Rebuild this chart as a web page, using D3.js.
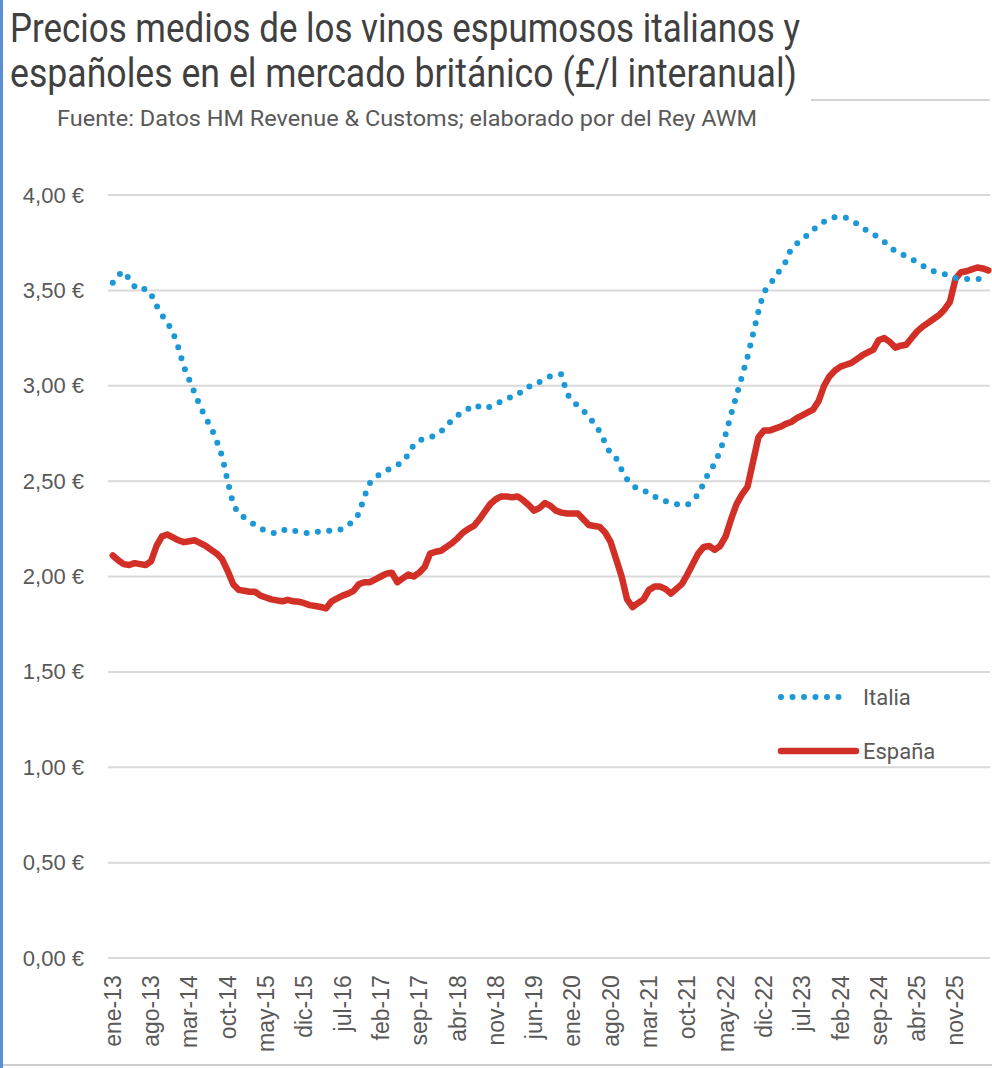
<!DOCTYPE html>
<html>
<head>
<meta charset="utf-8">
<title>Precios medios vinos espumosos</title>
<script src="https://cdn.jsdelivr.net/npm/d3@7"></script>
<style>
  body { margin: 0; background: #fff; }
  svg { display: block; }
</style>
</head>
<body>
<script>
// meses en español y años del eje
var meses = ["ene","feb","mar","abr","may","jun","jul","ago","sep","oct","nov","dic"];
var anios = [13,14,15,16,17,18,19,20,21,22,23,24,25,26];
var nMeses = 161; // ene-13 .. may-26

var categorias = [];
anios.forEach(function(a) {
  meses.forEach(function(m) { categorias.push(m + "-" + a); });
});
categorias = categorias.slice(0, nMeses);

var yTicks = [0, 0.5, 1, 1.5, 2, 2.5, 3, 3.5, 4];

// £/l interanual, Italia
var italia = [
  3.54,3.58,3.60,3.56,3.52,3.50,3.51,3.48,3.42,3.37,3.33,3.28,
  3.20,3.10,3.03,2.96,2.89,2.83,2.78,2.71,2.63,2.50,2.38,2.33,
  2.31,2.29,2.27,2.25,2.24,2.23,2.225,2.24,2.25,2.24,2.235,2.23,
  2.225,2.23,2.24,2.24,2.24,2.24,2.25,2.27,2.29,2.33,2.42,2.49,
  2.52,2.54,2.555,2.57,2.585,2.60,2.64,2.69,2.715,2.72,2.73,2.74,
  2.76,2.79,2.82,2.845,2.86,2.88,2.90,2.89,2.88,2.89,2.90,2.92,
  2.935,2.94,2.95,2.98,2.995,3.00,3.02,3.035,3.05,3.055,3.06,2.96,
  2.92,2.895,2.87,2.84,2.80,2.76,2.70,2.64,2.62,2.56,2.51,2.48,
  2.455,2.45,2.44,2.42,2.40,2.395,2.39,2.38,2.375,2.375,2.40,2.43,
  2.49,2.55,2.59,2.66,2.745,2.85,2.95,3.05,3.15,3.27,3.39,3.49,
  3.53,3.565,3.61,3.65,3.72,3.745,3.77,3.79,3.82,3.835,3.86,3.875,
  3.885,3.885,3.88,3.865,3.85,3.83,3.81,3.795,3.775,3.755,3.73,3.705,
  3.69,3.68,3.665,3.645,3.63,3.61,3.60,3.59,3.585,3.575,3.565,3.56,
  3.56,3.56,3.56,3.56,3.56
];

// £/l interanual, España
var espana = [
  2.11,2.085,2.065,2.06,2.07,2.065,2.06,2.08,2.16,2.21,2.22,2.205,
  2.19,2.18,2.185,2.19,2.175,2.16,2.14,2.12,2.09,2.03,1.96,1.93,
  1.925,1.92,1.92,1.90,1.89,1.88,1.875,1.87,1.878,1.87,1.868,1.86,
  1.85,1.845,1.84,1.833,1.87,1.885,1.90,1.91,1.925,1.96,1.97,1.97,
  1.985,2.00,2.015,2.02,1.97,1.99,2.01,2.00,2.02,2.05,2.12,2.13,
  2.135,2.155,2.175,2.20,2.23,2.25,2.265,2.30,2.34,2.38,2.405,2.42,
  2.42,2.415,2.42,2.40,2.375,2.345,2.36,2.385,2.37,2.345,2.335,2.33,
  2.33,2.33,2.30,2.27,2.265,2.26,2.23,2.18,2.09,2.00,1.88,1.84,
  1.86,1.88,1.93,1.947,1.947,1.935,1.91,1.935,1.96,2.01,2.065,2.12,
  2.155,2.16,2.14,2.16,2.21,2.30,2.38,2.43,2.47,2.60,2.73,2.765,
  2.765,2.775,2.785,2.80,2.81,2.83,2.845,2.86,2.875,2.92,3.00,3.05,
  3.08,3.10,3.11,3.12,3.14,3.16,3.175,3.19,3.24,3.25,3.23,3.20,
  3.21,3.215,3.25,3.285,3.31,3.33,3.35,3.37,3.40,3.44,3.56,3.595,
  3.60,3.61,3.62,3.615,3.605
];

var W = 992, H = 1068;
var colItalia = "#1b98d5", colEspana = "#d22f27", gris = "#595959";

var svg = d3.select("body").append("svg")
  .attr("width", W)
  .attr("height", H);

// marco de la captura
svg.append("rect").attr("x", 0).attr("y", 0).attr("width", 3).attr("height", H)
  .attr("fill", "#5b8ed6");
svg.append("line").attr("x1", 3).attr("x2", W).attr("y1", 1065).attr("y2", 1065)
  .attr("stroke", "#cfcfcf").attr("stroke-width", 2);
svg.append("line").attr("x1", 811).attr("x2", 990).attr("y1", 100).attr("y2", 100)
  .attr("stroke", "#d4d4d4").attr("stroke-width", 2);

// titulos
svg.append("text")
  .attr("x", 10).attr("y", 42)
  .attr("font-family", "Roboto, sans-serif")
  .attr("font-size", 41)
  .attr("fill", "#404040")
  .attr("textLength", 790).attr("lengthAdjust", "spacingAndGlyphs")
  .text("Precios medios de los vinos espumosos italianos y");
svg.append("text")
  .attr("x", 10).attr("y", 87)
  .attr("font-family", "Roboto, sans-serif")
  .attr("font-size", 41)
  .attr("fill", "#404040")
  .attr("textLength", 787).attr("lengthAdjust", "spacingAndGlyphs")
  .text("españoles en el mercado británico (£/l interanual)");
svg.append("text")
  .attr("x", 57).attr("y", 126)
  .attr("font-family", "Roboto, sans-serif")
  .attr("font-size", 22)
  .attr("fill", gris)
  .attr("textLength", 700).attr("lengthAdjust", "spacingAndGlyphs")
  .text("Fuente: Datos HM Revenue & Customs; elaborado por del Rey AWM");

// escalas
var x = d3.scaleBand()
  .domain(categorias)
  .range([110, 991]);

var y = d3.scaleLinear()
  .domain([0, 4])
  .range([958, 195]);

var es = d3.formatLocale({ decimal: ",", thousands: ".", grouping: [3], currency: ["", " €"] });
var fmt = es.format(".2f");

// rejilla
svg.append("g")
  .selectAll("line")
  .data(yTicks)
  .enter().append("line")
  .attr("x1", 108).attr("x2", 990)
  .attr("y1", function(d) { return y(d); })
  .attr("y2", function(d) { return y(d); })
  .attr("stroke", "#d9d9d9")
  .attr("stroke-width", 2);

// eje Y
var gy = svg.append("g")
  .attr("transform", "translate(88,0)")
  .call(d3.axisLeft(y).tickValues(yTicks).tickSize(0).tickPadding(4)
    .tickFormat(function(d) { return fmt(d) + " €"; }));
gy.select(".domain").remove();
gy.selectAll("text")
  .attr("font-family", "Liberation Sans, Arial, sans-serif")
  .attr("font-size", 22)
  .attr("fill", gris);

// eje X
var gx = svg.append("g")
  .attr("transform", "translate(0,966)")
  .call(d3.axisBottom(x)
    .tickValues(categorias.filter(function(d, i) { return i % 7 === 0; }))
    .tickSize(0));
gx.select(".domain").remove();
gx.selectAll("text")
  .attr("font-family", "Liberation Sans, Arial, sans-serif")
  .attr("font-size", 23)
  .attr("fill", gris)
  .style("text-anchor", "end")
  .attr("dx", "-0.4em")
  .attr("dy", "0.35em")
  .attr("y", 0)
  .attr("transform", "rotate(-90)");

// lineas
var linea = function(serie) {
  return d3.line()
    .x(function(d, i) { return x(categorias[i]) + x.bandwidth() / 2; })
    .y(function(d) { return y(d); })(serie);
};

svg.append("path")
  .attr("d", linea(espana))
  .attr("fill", "none")
  .attr("stroke", colEspana)
  .attr("stroke-width", 6.5)
  .attr("stroke-linejoin", "round")
  .attr("stroke-linecap", "round");

svg.append("path")
  .attr("d", linea(italia))
  .attr("fill", "none")
  .attr("stroke", colItalia)
  .attr("stroke-width", 6)
  .attr("stroke-dasharray", "0,11.5")
  .attr("stroke-linecap", "round");

// leyenda
var leyenda = [
  { nombre: "Italia", color: colItalia, y: 697, punteada: true },
  { nombre: "España", color: colEspana, y: 751, punteada: false }
];
var gl = svg.append("g");
leyenda.forEach(function(l) {
  gl.append("line")
    .attr("x1", 781).attr("x2", l.punteada ? 849 : 856)
    .attr("y1", l.y).attr("y2", l.y)
    .attr("stroke", l.color)
    .attr("stroke-width", l.punteada ? 6 : 6.5)
    .attr("stroke-linecap", "round")
    .attr("stroke-dasharray", l.punteada ? "0,11.5" : null);
  gl.append("text")
    .attr("x", 863).attr("y", l.y + 8)
    .attr("font-family", "Roboto, sans-serif")
    .attr("font-size", 22)
    .attr("fill", gris)
    .text(l.nombre);
});
</script>
</body>
</html>
